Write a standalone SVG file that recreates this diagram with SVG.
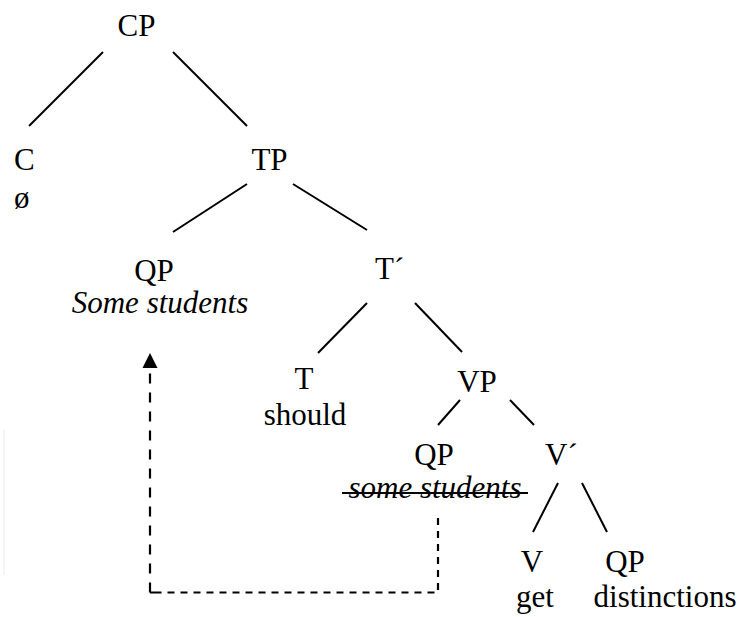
<svg xmlns="http://www.w3.org/2000/svg" width="739" height="617" viewBox="0 0 739 617">
  <style>
    text { font-family: 'Liberation Serif', 'Times New Roman', serif; font-size: 31px; fill: #000; }
    .it { font-style: italic; }
    .mid { text-anchor: middle; }
    .edge { stroke: #000; stroke-width: 2; fill: none; }
    .move { stroke: #000; stroke-width: 2.2; fill: none; }
  </style>
  <rect width="739" height="617" fill="#fff"/>
  <rect x="3" y="430" width="2" height="145" fill="#f5f5f5"/>

  <g id="edges">
    <line class="edge" x1="103" y1="52" x2="29" y2="126"/>
    <line class="edge" x1="173" y1="52" x2="247" y2="126"/>
    <line class="edge" x1="247" y1="184" x2="173" y2="232"/>
    <line class="edge" x1="293" y1="184" x2="367" y2="230"/>
    <line class="edge" x1="367" y1="303" x2="318" y2="353"/>
    <line class="edge" x1="415" y1="303" x2="462" y2="352"/>
    <line class="edge" x1="460" y1="400" x2="438" y2="425"/>
    <line class="edge" x1="510" y1="400" x2="534" y2="425"/>
    <line class="edge" x1="558" y1="483" x2="533" y2="532"/>
    <line class="edge" x1="582" y1="483" x2="607" y2="532"/>
  </g>

  <g id="movement">
    <path class="move" d="M438,518 V592.5 H158" stroke-dasharray="7,6"/>
    <path class="move" d="M150,592.5 H158 M150,592.5 V370" stroke-dasharray="10,9"/>
    <polygon points="150,353 142.5,368 157.5,368" fill="#000"/>
  </g>

  <g id="n-CP"><text class="mid" x="136.5" y="36">CP</text></g>
  <g id="n-C"><text x="14" y="170">C</text><text x="14" y="208">ø</text></g>
  <g id="n-TP"><text class="mid" x="269.5" y="170">TP</text></g>
  <g id="n-QP1"><text class="mid" x="154" y="281">QP</text><text class="mid it" x="160" y="313">Some students</text></g>
  <g id="n-Tbar"><text x="375" y="279">T´</text></g>
  <g id="n-T"><text class="mid" x="304" y="389">T</text><text class="mid" x="305" y="425">should</text></g>
  <g id="n-VP"><text class="mid" x="477" y="392">VP</text></g>
  <g id="n-QP2"><text class="mid" x="434" y="465">QP</text><text class="mid it" x="435" y="498">some students</text><line class="edge" x1="342" y1="493" x2="528" y2="493"/></g>
  <g id="n-Vbar"><text x="545" y="465">V´</text></g>
  <g id="n-V"><text class="mid" x="532" y="572">V</text><text class="mid" x="535" y="607">get</text></g>
  <g id="n-QP3"><text class="mid" x="625" y="572">QP</text><text class="mid" x="665" y="607">distinctions</text></g>
</svg>
